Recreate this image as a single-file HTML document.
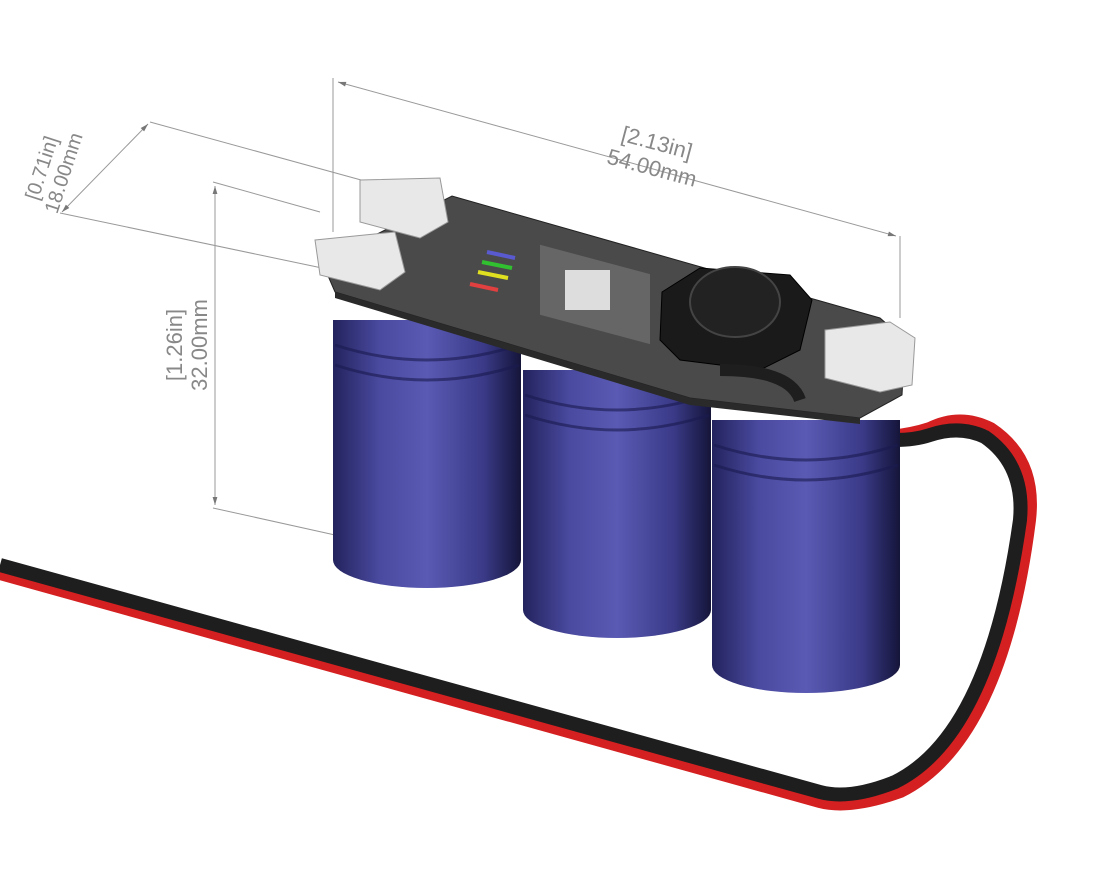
<!DOCTYPE html>
<html><head><meta charset="utf-8"><style>html,body{margin:0;padding:0;background:#fff}svg{display:block}</style></head>
<body>
<svg width="1099" height="883" viewBox="0 0 1099 883" xmlns="http://www.w3.org/2000/svg">
<defs>
<linearGradient id="cap" x1="0" x2="1" y1="0" y2="0">
<stop offset="0" stop-color="#23235e"/><stop offset="0.25" stop-color="#4a4aa0"/><stop offset="0.5" stop-color="#5a5ab4"/><stop offset="0.8" stop-color="#3a3a88"/><stop offset="1" stop-color="#15153a"/>
</linearGradient>
<marker id="ar" viewBox="0 0 10 10" refX="10" refY="5" markerWidth="14" markerHeight="8" orient="auto-start-reverse"><path d="M0,2 L10,5 L0,8 z" fill="#777"/></marker>
</defs>
<g stroke="#999" stroke-width="1" fill="none">
<line x1="333" y1="78" x2="333" y2="232"/>
<line x1="900" y1="236" x2="900" y2="318"/>
<line x1="338" y1="82" x2="896" y2="236" marker-start="url(#ar)" marker-end="url(#ar)"/>
<line x1="150" y1="122" x2="372" y2="183"/>
<line x1="60" y1="213" x2="322" y2="268"/>
<line x1="148" y1="124" x2="62" y2="212" marker-start="url(#ar)" marker-end="url(#ar)"/>
<line x1="213" y1="182" x2="320" y2="212"/>
<line x1="213" y1="508" x2="335" y2="535"/>
<line x1="215" y1="186" x2="215" y2="505" marker-start="url(#ar)" marker-end="url(#ar)"/>
</g>
<g font-family="Liberation Sans, sans-serif" fill="#888" font-size="22">
<text transform="translate(655,150) rotate(15)" text-anchor="middle">[2.13in]</text>
<text transform="translate(650,175) rotate(15)" text-anchor="middle">54.00mm</text>
<text transform="translate(48,170) rotate(-72)" text-anchor="middle" font-size="20">[0.71in]</text>
<text transform="translate(70,175) rotate(-72)" text-anchor="middle" font-size="20">18.00mm</text>
<text transform="translate(182,345) rotate(-90)" text-anchor="middle">[1.26in]</text>
<text transform="translate(207,345) rotate(-90)" text-anchor="middle">32.00mm</text>
</g>
<!-- cable -->
<path d="M0,572 L820,800 Q850,808 900,790 Q1000,740 1028,520 Q1035,460 990,430 Q960,415 930,430 Q900,440 850,440" stroke="#d42020" stroke-width="16" fill="none"/>
<path d="M0,565 L820,792 Q850,800 895,782 Q990,735 1020,520 Q1025,465 985,437 Q960,425 930,435 Q900,445 850,435" stroke="#1e1e1e" stroke-width="14" fill="none"/>
<!-- capacitors -->
<g>
<rect x="333" y="320" width="188" height="240" fill="url(#cap)"/><ellipse cx="427" cy="560" rx="94" ry="28" fill="url(#cap)"/>
<rect x="523" y="370" width="188" height="240" fill="url(#cap)"/><ellipse cx="617" cy="610" rx="94" ry="28" fill="url(#cap)"/>
<rect x="712" y="420" width="188" height="245" fill="url(#cap)"/><ellipse cx="806" cy="665" rx="94" ry="28" fill="url(#cap)"/>
<g fill="none" stroke="#1a1a50" stroke-width="3" opacity="0.6">
<path d="M335,345 Q427,375 519,345"/><path d="M335,365 Q427,395 519,365"/>
<path d="M525,395 Q617,425 709,395"/><path d="M525,415 Q617,445 709,415"/>
<path d="M714,445 Q806,475 898,445"/><path d="M714,465 Q806,495 898,465"/>
</g>
</g>
<!-- pcb -->
<polygon points="322,262 452,196 880,318 905,340 902,395 860,418 690,398 335,292" fill="#4a4a4a" stroke="#222"/>
<polygon points="335,292 690,398 860,418 860,424 690,405 335,298" fill="#2a2a2a"/>
<!-- LED strips -->
<g stroke-width="4"><line x1="487" y1="252" x2="515" y2="258" stroke="#5a5ad0"/><line x1="482" y1="262" x2="512" y2="268" stroke="#30c030"/><line x1="478" y1="272" x2="508" y2="278" stroke="#e0e020"/><line x1="470" y1="284" x2="498" y2="290" stroke="#e04040"/></g>
<!-- button -->
<rect x="540" y="250" width="110" height="70" fill="#666" transform="skewY(15) translate(0,-150)"/>
<rect x="565" y="270" width="45" height="40" fill="#ddd"/>
<!-- inductor -->
<polygon points="662,292 700,268 790,275 812,300 800,350 760,370 680,360 660,340" fill="#1a1a1a" stroke="#000"/>
<ellipse cx="735" cy="302" rx="45" ry="35" fill="#222" stroke="#444" stroke-width="2"/>
<!-- connectors -->
<g fill="#e8e8e8" stroke="#999">
<polygon points="360,180 440,178 448,222 420,238 360,222"/>
<polygon points="315,240 395,232 405,272 380,290 320,275"/>
<polygon points="825,330 890,322 915,338 912,385 880,392 825,378"/>
</g>
<path d="M720,370 Q790,370 800,400" stroke="#1e1e1e" stroke-width="12" fill="none"/>
</svg>
</body></html>
